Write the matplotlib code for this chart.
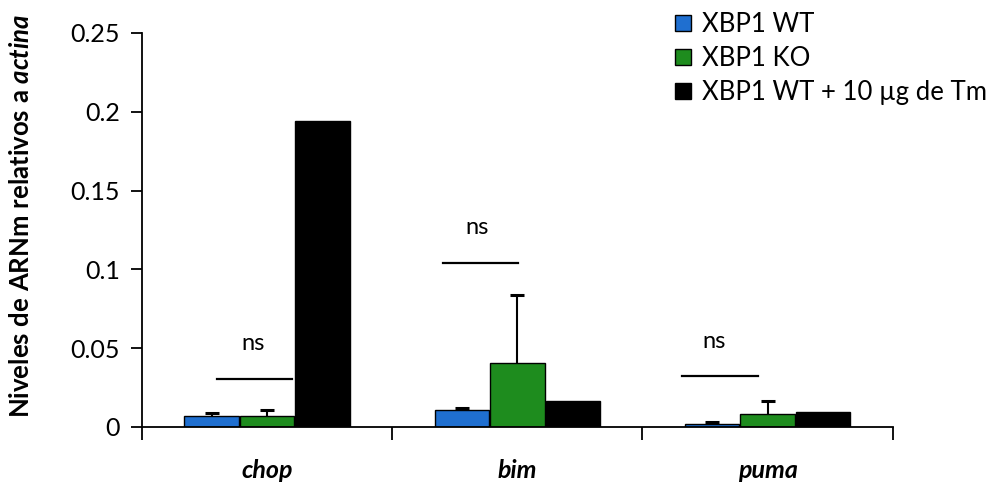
import numpy as np
import matplotlib.pyplot as plt

plt.rcParams['font.family'] = ['Lato', 'DejaVu Sans']
plt.rcParams['mathtext.fontset'] = 'custom'
plt.rcParams['mathtext.rm'] = 'Lato'
plt.rcParams['mathtext.bf'] = 'Lato:bold'
plt.rcParams['mathtext.it'] = 'Lato:italic'
plt.rcParams['mathtext.bfit'] = 'Lato:bold:italic'

genes = ['chop', 'bim', 'puma']
series = ['XBP1 WT', 'XBP1 KO', 'XBP1 WT + 10 \u00b5g de Tm']
wt = [0.0066, 0.0108, 0.0020]
ko = [0.0066, 0.0407, 0.0083]
tm = [0.1940, 0.0165, 0.0095]
wt_err = [0.0023, 0.0013, 0.0012]
ko_err = [0.0042, 0.0433, 0.0082]

# ns brackets: (x0, x1, y) and label positions
ns_lines = [(-0.20, 0.10, 0.0305), (0.704, 1.004, 0.1037), (1.656, 1.96, 0.0324)]
ns_text = [(-0.056, 0.0528), (0.84, 0.1266), (1.788, 0.054)]

colors = ['#1f6fd0', '#1e8c1e', '#000000']
offsets = [-0.222, 0.0, 0.222]
width = 0.218

fig = plt.figure(figsize=(9.93, 4.84), dpi=100)
ax = fig.add_axes([0.143, 0.118, 0.756, 0.814])

x = np.arange(len(genes))
vals = [wt, ko, tm]
errs = [wt_err, ko_err]
for k in range(3):
    ax.bar(x + offsets[k], vals[k], width, color=colors[k], edgecolor='black',
           linewidth=1, label=series[k], zorder=2)

# upper error bars only
for k in range(2):
    xs = x + offsets[k]
    tops = np.array(vals[k]) + np.array(errs[k])
    ax.vlines(xs, vals[k], tops, color='black', lw=1.5, zorder=3)
    ax.hlines(tops, xs - 0.028, xs + 0.028, color='black', lw=2.2, zorder=3)

for (x0, x1, y), (tx, ty) in zip(ns_lines, ns_text):
    ax.plot([x0, x1], [y, y], color='black', lw=1.6)
    ax.text(tx, ty, 'ns', ha='center', va='center', fontsize=17)

ax.set_xlim(-0.5, 2.5)
ax.set_ylim(0, 0.25)
ax.set_yticks([0, 0.05, 0.1, 0.15, 0.2, 0.25])
ax.set_yticklabels(['0', '0.05', '0.1', '0.15', '0.2', '0.25'], fontsize=18)
ax.set_xticks([-0.5, 0.5, 1.5, 2.5])
ax.set_xticklabels([])
ax.set_xticks(x, minor=True)
ax.set_xticklabels(genes, minor=True, fontsize=18, fontweight='bold', fontstyle='italic')
ax.tick_params(axis='x', which='minor', length=0, pad=23)
ax.tick_params(axis='x', which='major', length=9, width=1.3, direction='out')
ax.tick_params(axis='y', length=8, width=1.3, direction='out', pad=8)
ax.spines['top'].set_visible(False)
ax.spines['right'].set_visible(False)
ax.spines['left'].set_linewidth(1.3)
ax.spines['bottom'].set_linewidth(1.3)

ax.set_ylabel(r'$\mathbf{Niveles\ de\ ARNm\ relativos\ a\ }\mathbfit{actina}$', fontsize=18.5)
ax.yaxis.set_label_coords(-0.144, 0.535)

fig.legend(loc='upper left', bbox_to_anchor=(0.68, 0.975), frameon=False, fontsize=18.5,
           handlelength=0.6, handleheight=0.6, handletextpad=0.45, labelspacing=0.35,
           borderpad=0, borderaxespad=0)

fig.savefig('out.png', dpi=100)
